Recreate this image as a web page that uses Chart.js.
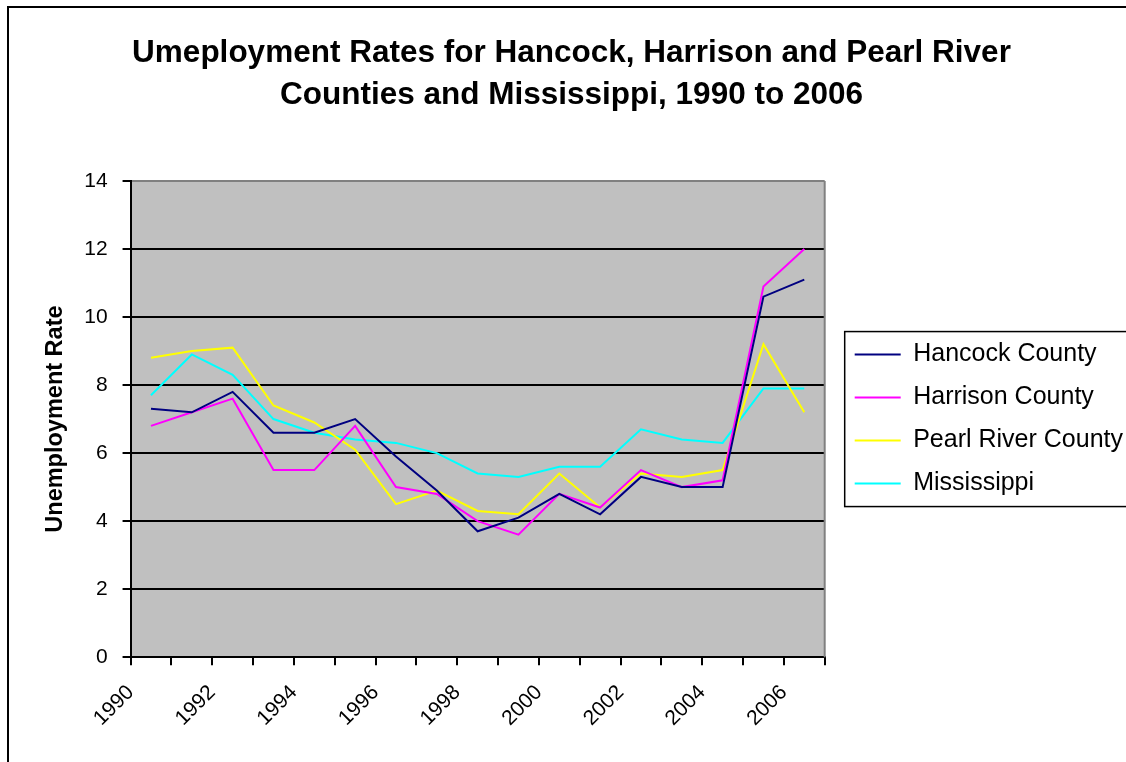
<!DOCTYPE html>
<html>
<head>
<meta charset="utf-8">
<script src="https://cdn.jsdelivr.net/npm/chart.js@4.4.1/dist/chart.umd.min.js"></script>
<style>
  html, body { margin: 0; padding: 0; background: #ffffff; }
  canvas { display: block; }
</style>
</head>
<body>
<canvas id="c" width="1126" height="762"></canvas>
<script>
// ---- data ----
const years = [1990, 1991, 1992, 1993, 1994, 1995, 1996, 1997, 1998, 1999, 2000, 2001, 2002, 2003, 2004, 2005, 2006];
const tickLabels = ['1990', '1992', '1994', '1996', '1998', '2000', '2002', '2004', '2006'];
const seriesNames = ['Hancock County', 'Harrison County', 'Pearl River County', 'Mississippi'];
const hancock     = [7.3, 7.2, 7.8, 6.6, 6.6, 7.0, 5.9, 4.9, 3.7, 4.1, 4.8, 4.2, 5.3, 5.0, 5.0, 10.6, 11.1];
const harrison    = [6.8, 7.2, 7.6, 5.5, 5.5, 6.8, 5.0, 4.8, 4.0, 3.6, 4.8, 4.4, 5.5, 5.0, 5.2, 10.9, 12.0];
const pearlRiver  = [8.8, 9.0, 9.1, 7.4, 6.9, 6.1, 4.5, 4.9, 4.3, 4.2, 5.4, 4.4, 5.4, 5.3, 5.5, 9.2, 7.2];
const mississippi = [7.7, 8.9, 8.3, 7.0, 6.6, 6.4, 6.3, 6.0, 5.4, 5.3, 5.6, 5.6, 6.7, 6.4, 6.3, 7.9, 7.9];
const titleLines = ['Umeployment Rates for Hancock, Harrison and Pearl River', 'Counties and Mississippi, 1990 to 2006'];
const yAxisTitle = 'Unemployment Rate';

// ---- styles ----
const seriesColors = ['#000080', '#FF00FF', '#FFFF00', '#00FFFF'];
const FONT = "'Liberation Sans', Arial, Helvetica, sans-serif";
Chart.defaults.font.family = FONT;
Chart.defaults.color = '#000000';

const allSeries = [hancock, harrison, pearlRiver, mississippi];
// each annual value is plotted at the middle of its year
const datasets = allSeries.map((vals, k) => ({
  label: seriesNames[k],
  data: years.map((yr, i) => ({ x: yr + 0.5, y: vals[i] })),
  borderColor: seriesColors[k],
  backgroundColor: seriesColors[k],
  borderWidth: 2,
  pointRadius: 0,
  pointHoverRadius: 0,
  tension: 0,
  fill: false
}));

const framePlugin = {
  id: 'frame',
  beforeDraw(chart) {
    const { ctx, chartArea: a } = chart;
    ctx.save();
    ctx.fillStyle = '#ffffff';
    ctx.fillRect(0, 0, chart.width, chart.height);
    ctx.fillStyle = '#C0C0C0';
    ctx.fillRect(a.left, a.top, a.right - a.left, a.bottom - a.top);
    ctx.restore();
  },
  beforeDatasetsDraw(chart) {
    const { ctx, chartArea: a } = chart;
    ctx.save();
    ctx.strokeStyle = '#808080';
    ctx.lineWidth = 2;
    ctx.beginPath();
    ctx.moveTo(a.right, a.top);
    ctx.lineTo(a.right, a.bottom);
    ctx.stroke();
    ctx.restore();
  },
  afterDraw(chart) {
    const { ctx } = chart;
    ctx.save();
    ctx.strokeStyle = '#000000';
    ctx.lineWidth = 2;
    ctx.strokeRect(8, 7, chart.width + 40, chart.height + 40);
    const lg = chart.legend;
    if (lg && lg.legendHitBoxes && lg.legendHitBoxes.length) {
      const hb = lg.legendHitBoxes;
      const c0 = hb[0].top + hb[0].height / 2;
      const c1 = hb[hb.length - 1].top + hb[hb.length - 1].height / 2;
      const bx = hb[0].left - 10;
      ctx.lineWidth = 1.5;
      ctx.strokeRect(bx, c0 - 23, chart.width, (c1 - c0) + 46);
    }
    ctx.restore();
  }
};

new Chart(document.getElementById('c'), {
  type: 'line',
  data: { datasets },
  plugins: [framePlugin],
  options: {
    responsive: false,
    animation: false,
    events: [],
    layout: { padding: { left: 10, top: 0, right: -7, bottom: 16 } },
    plugins: {
      title: {
        display: true,
        text: titleLines,
        color: '#000000',
        font: { size: 31.5, weight: 'bold', lineHeight: 42 / 31.5 },
        padding: { top: 32, bottom: 65 }
      },
      legend: {
        position: 'right',
        fullSize: false,
        align: 'center',
        maxWidth: 400,
        labels: {
          usePointStyle: true,
          pointStyle: 'line',
          pointStyleWidth: 46,
          padding: 18,
          color: '#000000',
          font: { size: 25 }
        }
      },
      tooltip: { enabled: false }
    },
    scales: {
      x: {
        type: 'linear',
        min: years[0],
        max: years[years.length - 1] + 1,
        ticks: {
          stepSize: 1,
          autoSkip: false,
          minRotation: 45,
          maxRotation: 45,
          padding: 15,
          color: '#000000',
          font: { size: 21 },
          callback: (v) => tickLabels.includes(String(v)) ? String(v) : ''
        },
        grid: { drawOnChartArea: false, drawTicks: true, tickLength: 8, color: '#000000', lineWidth: 2 },
        border: { display: true, color: '#000000', width: 2 }
      },
      y: {
        min: 0,
        max: 14,
        ticks: { stepSize: 2, padding: 15, color: '#000000', font: { size: 21 } },
        grid: {
          color: (c) => (c.tick && c.tick.value === 14) ? '#808080' : '#000000',
          tickColor: '#000000',
          lineWidth: 2,
          tickLength: 8
        },
        border: { display: true, color: '#000000', width: 2 },
        title: {
          display: true,
          text: yAxisTitle,
          color: '#000000',
          font: { size: 23.5, weight: 'bold' },
          padding: { top: 31, bottom: 0 }
        }
      },
      gap: {
        type: 'linear',
        position: 'right',
        display: false,
        afterFit: (s) => { s.width = 12; }
      }
    }
  }
});
</script>
</body>
</html>
